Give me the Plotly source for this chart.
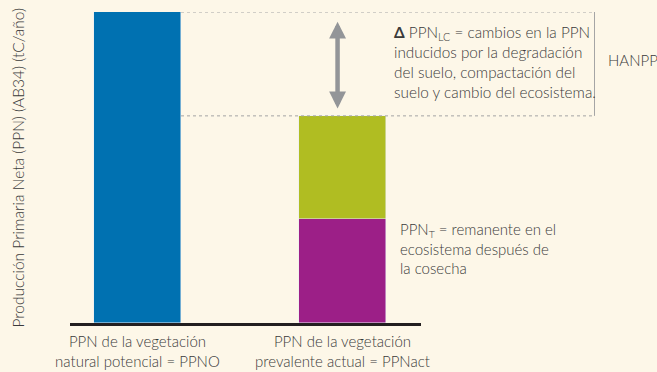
import plotly.graph_objects as go

# datos (valores relativos, PPNO = 100)
categorias = ["PPN de la vegetación<br>natural potencial = PPNO",
              "PPN de la vegetación<br>prevalente actual = PPNact"]
ppn_potencial = [100, None]
ppn_t = [None, 33.5]
delta_ppn_lc = [None, 33.1]

texto_eje_y = "Producción Primaria Neta (PPN) (AB34) (tC/año)"
texto_lc = ("<b>Δ</b> PPN<sub>LC</sub> = cambios en la PPN<br>inducidos por la degradación<br>"
            "del suelo, compactación del<br>suelo y cambio del ecosistema.")
texto_t = "PPN<sub>T</sub> = remanente en el<br>ecosistema después de<br>la cosecha"
texto_hanpp = "HANPP"

fondo = '#fdf7e8'
gris_texto = '#3a3a3a'
fuente = dict(family='Lato', size=15, color=gris_texto, weight=300)

x_pos = [0, 1]
ppn_act = ppn_t[1] + delta_ppn_lc[1]

fig = go.Figure()
fig.add_trace(go.Bar(x=x_pos, y=ppn_potencial, marker_color='#0071b1', width=0.424, name='PPNO'))
fig.add_trace(go.Bar(x=x_pos, y=ppn_t, marker_color='#9c1f87', width=0.424, name='PPN T'))
fig.add_trace(go.Bar(x=x_pos, y=delta_ppn_lc, marker_color='#b0bd22', width=0.424, name='Δ PPN LC'))

fig.update_layout(
    width=657, height=372,
    barmode='stack', bargap=0,
    showlegend=False,
    paper_bgcolor=fondo, plot_bgcolor=fondo,
    margin=dict(l=70, r=0, t=12, b=49),
    font=fuente,
    xaxis=dict(domain=[0, 351 / 587], range=[-0.329, 1.383], tickvals=x_pos, ticktext=categorias,
               showline=True, linecolor='#231f20', linewidth=3, showgrid=False, zeroline=False,
               ticks='', tickfont=fuente, ticklabelstandoff=3, automargin=False),
    yaxis=dict(range=[0, 100], showline=False, showgrid=False, zeroline=False,
               showticklabels=False, ticks=''),
)

# lineas punteadas y corchete HANPP
x0 = (181 - 70) / 587
x_br = (594.5 - 70) / 587
linea_punt = dict(color='#a5a5a5', width=1, dash='3px,3px')
fig.add_shape(type='line', xref='paper', yref='y', x0=x0, x1=x_br, y0=100, y1=100, line=linea_punt)
fig.add_shape(type='line', xref='paper', yref='y', x0=x0, x1=x_br, y0=ppn_act, y1=ppn_act, line=linea_punt)
fig.add_shape(type='line', xref='paper', yref='y', x0=x_br, x1=x_br, y0=100, y1=ppn_act,
              line=dict(color='#a5a5a5', width=1))

# flecha doble
fig.add_annotation(x=0.976, y=96.9, ax=0.976, ay=68.5, xref='x', yref='y', axref='x', ayref='y',
                   text='', showarrow=True, arrowhead=2, startarrowhead=2, arrowside='end+start',
                   arrowwidth=4.5, arrowsize=0.75, startarrowsize=0.75, arrowcolor='#939598')

fig.add_annotation(text=texto_lc, xref='paper', yref='paper', x=(392 - 70) / 587, y=(323 - 62) / 311,
                   xanchor='left', yanchor='middle', align='left', showarrow=False,
                   font=dict(fuente, size=15.3))
fig.add_annotation(text=texto_hanpp, xref='paper', yref='paper', x=(606 - 70) / 587, y=(323 - 60) / 311,
                   xanchor='left', yanchor='middle', align='left', showarrow=False, font=fuente)
fig.add_annotation(text=texto_t, xref='paper', yref='paper', x=(398 - 70) / 587, y=(323 - 248) / 311,
                   xanchor='left', yanchor='middle', align='left', showarrow=False, font=fuente)
fig.add_annotation(text=texto_eje_y, xref='paper', yref='paper', x=(17 - 70) / 587, y=0.5,
                   xanchor='center', yanchor='middle', textangle=-90, showarrow=False,
                   font=dict(fuente, size=15.5))

# sin margen del body para que la figura ocupe toda la ventana
fig.write_html("out.html", config={'displayModeBar': False},
               post_script="document.body.style.margin='0px';"
                           "document.body.style.background='#fdf7e8';")
